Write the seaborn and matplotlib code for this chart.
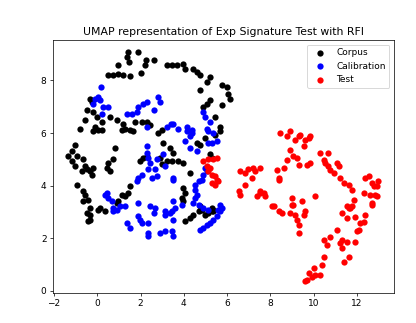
import matplotlib
matplotlib.use("Agg")
import matplotlib.pyplot as plt
import seaborn as sns
import pandas as pd

title = "UMAP representation of Exp Signature Test with RFI"
groups = ["Corpus", "Calibration", "Test"]
colors = ["black", "blue", "red"]

corpus_x = [1.9, 1.43, 1.39, 1.47, 2.27, 2.6, 2.2, 2.0, 0.97, 0.5, 0.74, 0.97, 1.2, 1.5, 3.2, 3.44, 3.67, 3.98, 4.06, 4.44, 4.6, 4.75, 5.2, 5.06, 4.75, 5.76, 6.0, 6.06, 6.14, 5.76, 5.2, 5.06, 4.9, 5.45, 5.68,
            -0.34, -0.26, -0.5, -0.57, -0.8, -0.19, -0.03, 0.2, 0.59, 0.9, 1.2, 1.74, 2.05, 2.28, 2.44, -0.1, 0.05, 1.28, 1.5,
            -0.19, 0.2, 1.13, 1.67, 2.82, 2.98,
            -1.03, -1.19, -1.34, -1.19, -0.96, -1.03, -0.65, -0.57, -0.73, -0.5, -0.34, -0.19, -0.26, 0.82, 0.74, 0.5, 0.43, 0.59, -0.96, -0.65, -0.57, -0.65, -0.42, -0.34, 0.12, 1.13, 1.28, 1.43, 1.5, 0.9, 0.97, 1.97, 2.13, 2.28, 2.9, 2.98, 3.2, 3.06,
            3.36, 3.52, 3.44, 3.75, 3.98, 4.99, 5.45, 5.68, 4.6, 4.75, 5.2, 5.29, 4.29, 3.98, 4.06, 3.9, 3.98, 4.75, 5.29, 5.37,
            -0.5, -0.34, -0.42, -0.34, 0.05, 0.36,
            4.06, 4.29, 4.44, 4.68, 4.99, 5.14, 5.29, 5.37, 4.83]
corpus_y = [9.1, 9.09, 8.9, 8.7, 8.78, 8.78, 8.6, 8.3, 8.6, 8.2, 8.2, 8.26, 8.2, 8.17, 8.6, 8.58, 8.58, 8.64, 8.45, 8.45, 8.33, 8.2, 8.14, 7.95, 7.63, 7.82, 7.76, 7.5, 7.31, 7.06, 7.25, 7.12, 7.0, 6.6, 6.24,
            7.3, 7.19, 6.87, 6.49, 6.17, 6.8, 6.6, 6.43, 6.6, 6.49, 6.36, 6.43, 6.43, 6.43, 6.3, 6.24, 6.12, 6.17, 6.12,
            6.07, 6.13, 6.13, 6.07, 6.0, 6.13,
            5.56, 5.31, 5.12, 4.93, 5.12, 4.74, 5.0, 4.74, 4.55, 4.62, 4.55, 4.68, 4.42, 5.44, 5.0, 4.87, 4.68, 4.55, 4.04, 3.79, 3.66, 3.41, 3.47, 3.16, 3.16, 3.66, 3.6, 3.73, 3.98, 3.35, 3.41, 4.93, 5.06, 5.12, 5.06, 4.81, 4.93, 5.63,
            5.44, 5.25, 4.93, 4.93, 4.87, 5.82, 5.94, 6.07, 5.63, 5.56, 5.19, 5.06, 4.49, 3.92, 3.73, 3.54, 3.41, 3.22, 3.16, 3.03,
            2.97, 2.9, 2.65, 2.71, 3.09, 3.03,
            2.65, 2.78, 2.9, 3.03, 2.9, 2.97, 3.03, 3.09, 3.09]

calib_x = [0.17, -0.1, 0.05, 0.12, -0.19, 0.28, 0.5, 0.2, 1.36, 1.59, 1.82, 1.9, 2.13, 2.28, 2.82, 2.9, 2.6, 2.28, 3.2, 3.43,
           4.9, 4.99, 5.2, 3.52, 3.75, 4.13, 4.37, 5.06,
           2.28, 2.28, 2.36, 2.44, 2.75, 3.13, 3.06, 2.67, 2.36, 2.75, 2.51, 2.05, 1.9, 1.82, 0.36, 0.43, 0.5, 0.66, 0.74, 1.05, 1.28, 1.9, 2.44, 2.67, 3.13, 3.52,
           4.13, 4.37, 4.29, 5.14, 5.37, 4.06, 4.29, 4.6, 5.14, 5.29, 5.52, 4.99, 5.06, 4.9, 4.83, 4.68, 4.52, 3.52, 4.52, 4.6, 4.52, 4.44, 4.68, 4.9, 5.14, 5.6, 5.68, 3.52, 3.9, 3.6,
           0.74, 0.9, 1.36, 1.51, 1.97, 2.05, 2.36, 1.9, 2.6, 2.36, 2.36, 2.9, 3.13, 3.13, 3.36,
           3.44, 3.52, 3.44, 3.52, 4.75, 4.9, 5.06, 5.2, 5.37, 5.52, 5.68, 5.76]
calib_y = [7.75, 7.3, 7.37, 7.25, 7.12, 7.0, 7.0, 6.74, 6.74, 6.74, 6.8, 7.0, 7.12, 7.19, 7.38, 7.19, 6.87, 6.24, 6.24, 6.35,
           6.8, 6.6, 6.43, 6.36, 6.17, 6.24, 6.12, 6.17,
           5.5, 5.25, 5.06, 4.87, 5.0, 4.74, 5.19, 4.62, 4.62, 4.36, 4.3, 4.42, 4.3, 4.17, 3.66, 3.73, 3.54, 3.41, 3.16, 3.22, 3.22, 3.35, 3.22, 3.16, 3.03, 4.3,
           6.07, 6.0, 5.88, 6.07, 6.0, 5.69, 5.44, 5.31, 5.63, 5.63, 5.69, 4.68, 4.55, 4.42, 4.23, 4.17, 4.04, 4.23, 3.85, 3.66, 3.54, 3.35, 3.28, 3.16, 3.09, 3.09, 3.28, 3.41, 3.28, 3.16,
           3.03, 3.09, 2.59, 2.4, 2.71, 2.59, 2.59, 2.84, 2.97, 2.21, 2.08, 2.21, 2.27, 2.9, 2.97,
           3.03, 2.71, 2.27, 2.08, 2.33, 2.4, 2.52, 2.59, 2.71, 2.84, 3.03, 3.16]

test_x = [4.9, 5.14, 5.37, 5.52, 5.06, 5.2, 5.14, 5.29, 5.45, 5.52, 5.6, 5.29, 5.45,
          6.6, 6.84, 6.99, 7.22, 7.3, 7.14, 6.84, 6.53, 6.6, 7.38, 7.53,
          8.46, 8.76, 8.92, 9.15, 9.31, 9.38, 9.61, 9.77, 9.84, 9.54, 8.92, 9.07, 9.23, 8.76, 9.31, 9.69, 9.84,
          8.3, 8.61, 8.38, 8.38, 10.3, 10.69, 10.46, 10.54, 10.69, 10.77, 10.93, 11.08, 11.16, 11.23,
          11.39, 11.62, 11.77, 11.85, 11.77, 11.62, 12.39, 12.55, 12.7, 12.78, 12.93, 13.0, 12.31, 12.63, 12.85, 12.93, 12.7,
          7.53, 7.53, 7.69, 7.76, 8.15, 8.99, 9.07, 9.46, 10.08,
          8.07, 8.38, 8.53, 8.99, 8.92, 9.15, 9.23, 9.31, 9.54, 9.61, 9.31,
          11.54, 11.7, 11.31, 11.54, 11.93, 12.39, 12.31, 12.16, 12.08, 12.0, 11.93, 12.7,
          11.08, 10.77, 10.46, 10.62, 11.31, 11.54, 11.24, 11.31, 11.62, 11.39, 10.46,
          10.38, 10.0, 10.3, 10.08, 9.77, 9.92, 9.69, 9.61]
test_y = [4.93, 5.0, 5.0, 5.06, 4.74, 4.68, 4.55, 4.42, 4.36, 4.23, 4.17, 4.1, 4.04,
          4.55, 4.49, 4.62, 4.68, 4.55, 4.3, 4.04, 3.79, 3.66, 3.6, 3.73,
          6.0, 5.87, 6.06, 5.74, 5.87, 5.93, 5.74, 5.81, 5.87, 5.49, 5.36, 5.11, 5.05, 4.98, 4.79, 4.79, 4.86,
          4.6, 4.67, 4.29, 4.22, 5.24, 5.24, 4.98, 4.86, 4.73, 4.6, 4.48, 4.86, 4.73, 4.29,
          4.1, 4.03, 3.84, 3.46, 3.21, 3.14, 4.29, 4.35, 4.1, 3.97, 3.97, 4.16, 3.71, 3.65, 3.65, 3.59, 3.33,
          4.67, 3.78, 3.71, 3.59, 3.21, 3.52, 3.27, 3.4, 3.59,
          3.21, 3.02, 2.95, 3.27, 2.95, 2.89, 2.7, 2.51, 2.89, 3.02, 2.19,
          3.21, 3.14, 2.95, 2.76, 2.82, 2.89, 2.63, 2.57, 2.32, 2.26, 1.87, 3.27,
          2.32, 2.06, 1.94, 1.75, 1.94, 1.87, 1.81, 1.62, 1.3, 1.11, 1.3,
          0.99, 0.86, 0.61, 0.61, 0.67, 0.54, 0.42, 0.36]

series = [(corpus_x, corpus_y), (calib_x, calib_y), (test_x, test_y)]

fig, ax = plt.subplots(figsize=(6.4, 4.97), dpi=65)
fig.subplots_adjust(left=0.127, right=0.947, top=0.876, bottom=0.093)

for name, color, (xs, ys) in zip(groups, colors, series):
    df = pd.DataFrame({"x": xs, "y": ys})
    sns.scatterplot(data=df, x="x", y="y", color=color, s=48, linewidth=0,
                    label=name, ax=ax)

ax.set_xlabel("")
ax.set_ylabel("")
ax.set_title(title)
ax.legend(loc="upper right")
fig.savefig("out.png", dpi=65)
